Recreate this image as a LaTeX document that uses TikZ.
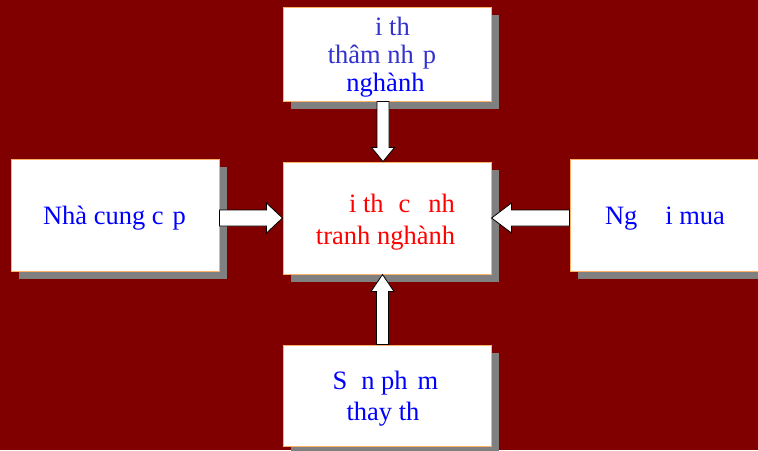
\documentclass[tikz,border=0pt]{standalone}
\usepackage{fontspec}
\setmainfont{Liberation Serif}
\usetikzlibrary{calc,shadows}
\definecolor{bgred}{RGB}{128,0,0}
\definecolor{boxborder}{RGB}{255,178,102}
\definecolor{shadowgray}{RGB}{128,128,128}
\definecolor{topblue}{RGB}{51,51,204}
\definecolor{txtblue}{RGB}{0,0,255}
\definecolor{txtred}{RGB}{255,0,0}
\begin{document}
\begin{tikzpicture}[x=1pt,y=-1pt,
  box/.style={draw=boxborder, line width=1pt, fill=white, inner sep=0pt,
    general shadow={fill=shadowgray, shadow xshift=8pt, shadow yshift=-8pt, opacity=1}},
  lbl/.style={inner sep=0pt, anchor=base, font=\fontsize{26.5}{30}\selectfont},
  barrow/.style={draw=black, line width=0.8pt, fill=white, line join=miter}]
\useasboundingbox (0,0) rectangle (758,450);
\fill[bgred] (0,0) rectangle (758,450);
\clip (0,0) rectangle (758,450);
% boxes
\node[box, minimum width=208pt, minimum height=94pt] (T) at (387,54) {};
\node[box, minimum width=208pt, minimum height=112pt] (C) at (387,218) {};
\node[box, minimum width=208pt, minimum height=112pt] (L) at (115,215) {};
\node[box, minimum width=208pt, minimum height=112pt] (R) at (674,215) {};
\node[box, minimum width=208pt, minimum height=101pt] (B) at (387,395.5) {};
% texts
\node[lbl, text=topblue] (t1) at (392.5,35) {i th};
\node[lbl, text=topblue] (t2) at (382,63) {thâm nh\hspace{9pt}p};
\node[lbl, text=txtblue] (t3) at (385.5,91) {nghành};
\node[lbl, text=txtred] (c1) at (402,212) {i th\hspace{15pt}c\hspace{18pt}nh};
\node[lbl, text=txtred] (c2) at (385.5,244) {tranh nghành};
\node[lbl, text=txtblue] (l1) at (114.5,224) {Nhà cung c\hspace{9pt}p};
\node[lbl, text=txtblue] (r1) at (665,224) {Ng\hspace{28pt}i mua};
\node[lbl, text=txtblue] (b1) at (385.5,389) {S\hspace{14pt}n ph\hspace{10pt}m};
\node[lbl, text=txtblue] (b2) at (383,420) {thay th};
% block arrows (let-coordinates are canvas values: y grows upward there)
% top: T -> C (pointing down)
\draw[barrow] let \p1=($(T.south)+(-4,0)$), \p2=($(C.north)+(-4,0)$) in
  (\x1-6,\y1) -- (\x1-6,\y2+14) -- (\x1-11.5,\y2+14) -- (\x2,\y2) -- (\x1+11.5,\y2+14) -- (\x1+6,\y2+14) -- (\x1+6,\y1) -- cycle;
% bottom: B -> C (pointing up)
\draw[barrow] let \p1=($(B.north)+(-4.5,0)$), \p2=($(C.south)+(-4.5,0)$) in
  (\x1-6,\y1) -- (\x1-6,\y2-17) -- (\x1-11.5,\y2-17) -- (\x2,\y2) -- (\x1+11.5,\y2-17) -- (\x1+6,\y2-17) -- (\x1+6,\y1) -- cycle;
% left: L -> C (pointing right)
\draw[barrow] let \p1=(L.east |- C.west), \p2=(C.west) in
  (\x1,\y1-8) -- (\x2-16,\y1-8) -- (\x2-16,\y1-15) -- (\x2,\y2) -- (\x2-16,\y1+15) -- (\x2-16,\y1+8) -- (\x1,\y1+8) -- cycle;
% right: R -> C (pointing left)
\draw[barrow] let \p1=(R.west |- C.east), \p2=(C.east) in
  (\x1,\y1-8) -- (\x2+20,\y1-8) -- (\x2+20,\y1-15) -- (\x2,\y2) -- (\x2+20,\y1+15) -- (\x2+20,\y1+8) -- (\x1,\y1+8) -- cycle;
\end{tikzpicture}
\end{document}
